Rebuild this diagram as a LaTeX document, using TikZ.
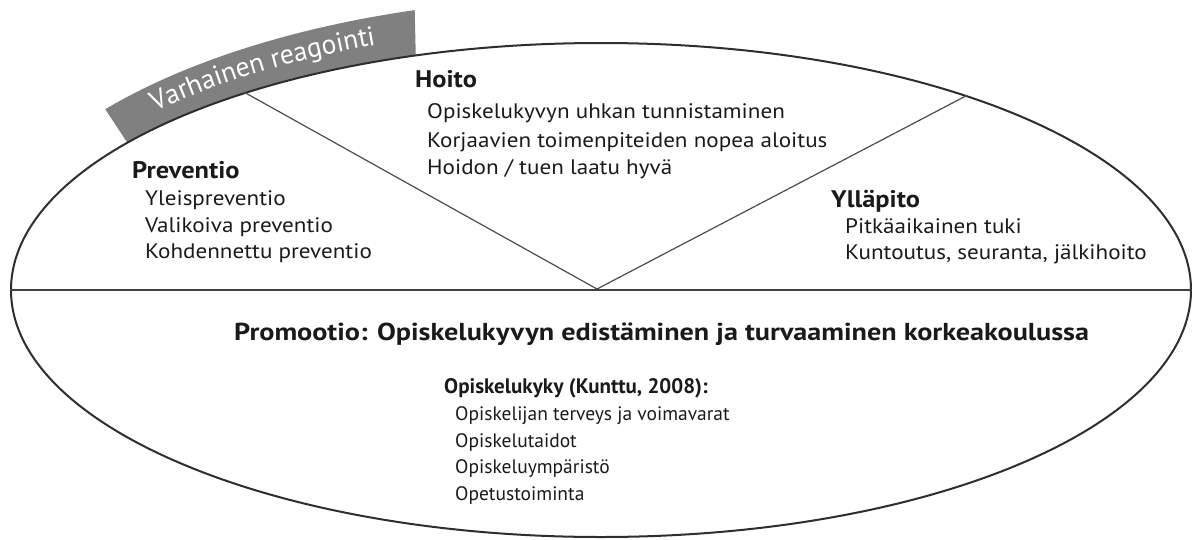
\documentclass[tikz,border=0pt]{standalone}
\usepackage{fontspec}
\setmainfont{PT Sans}
\newfontfamily\itemfont[FakeStretch=1.1]{PT Sans}
\newfontfamily\headfont[FakeStretch=1.1]{PT Sans}
\newfontfamily\promfont[FakeStretch=1.15]{PT Sans}
\usetikzlibrary{shapes.geometric,decorations.text}
\definecolor{bandgray}{HTML}{808080}
\definecolor{linegray}{HTML}{2E2E2E}
\definecolor{txt}{HTML}{1A1A1A}
\begin{document}
\begin{tikzpicture}[x=1pt,y=-1pt,
  head/.style={anchor=base west, inner sep=0pt, font=\headfont\bfseries\fontsize{24}{28}\selectfont, text=txt},
  item/.style={anchor=base west, inner sep=0pt, font=\itemfont\fontsize{21}{24}\selectfont, text=txt},
  promhead/.style={anchor=base west, inner sep=0pt, font=\promfont\bfseries\fontsize{24.5}{28}\selectfont, text=txt},
  subhead/.style={anchor=base west, inner sep=0pt, font=\bfseries\fontsize{21}{26}\selectfont, text=txt},
  subitem/.style={anchor=base west, inner sep=0pt, font=\fontsize{19.5}{24}\selectfont, text=txt},
  vline/.style={draw=black!70, line width=1.2pt},
  hline/.style={draw=black!75, line width=2.6pt}]
\useasboundingbox (0,0) rectangle (1192,539);
% band
\fill[bandgray] plot[smooth, samples=30, domain=108.3:143.4] ({601+590*cos(\x)},{290-247*sin(\x)})
  -- plot[smooth, samples=30, domain=141.9:107.2] ({601+630*cos(\x)},{290-293*sin(\x)}) -- cycle;
\path[decorate, decoration={text along path, text align=center,
  text={|\fontsize{27.5}{27.5}\selectfont\color{white}|Varhainen reagointi}}]
  plot[smooth, samples=30, domain=142.5:108] ({601+605*cos(\x)},{290-264*sin(\x)});
% ellipse
\node[draw=linegray, line width=2pt, ellipse, minimum width=1180pt, minimum height=494pt, inner sep=0pt] (E) at (601,290) {};
\coordinate (V) at (597,289);
\draw[vline] (E.151.7) -- (V) -- (E.28.8);
\draw[hline] (E.west) -- (E.east);
% Hoito
\node[head] (hoito) at (415,87) {Hoito};
\node[item] (h1) at (427,118) {Opiskelukyvyn uhkan tunnistaminen};
\node[item] (h2) at (427,147) {Korjaavien toimenpiteiden nopea aloitus};
\node[item] (h3) at (427,174) {Hoidon / tuen laatu hyvä};
% Preventio
\node[head] (prev) at (132,178) {Preventio};
\node[item] (p1) at (145,205) {Yleispreventio};
\node[item] (p2) at (145,232) {Valikoiva preventio};
\node[item] (p3) at (145,258) {Kohdennettu preventio};
% Yllapito
\node[head] (yll) at (831,207) {Ylläpito};
\node[item] (y1) at (845,233) {Pitkäaikainen tuki};
\node[item] (y2) at (845,259) {Kuntoutus, seuranta, jälkihoito};
% Promootio
\node[promhead] (prom) at (234,340) {Promootio: Opiskelukyvyn edistäminen ja turvaaminen korkeakoulussa};
\node[subhead] (ok) at (444,393) {Opiskelukyky (Kunttu, 2008):};
\node[subitem] (o1) at (455,420) {Opiskelijan terveys ja voimavarat};
\node[subitem] (o2) at (455,447) {Opiskelutaidot};
\node[subitem] (o3) at (455,473) {Opiskeluympäristö};
\node[subitem] (o4) at (455,500) {Opetustoiminta};
\end{tikzpicture}
\end{document}
